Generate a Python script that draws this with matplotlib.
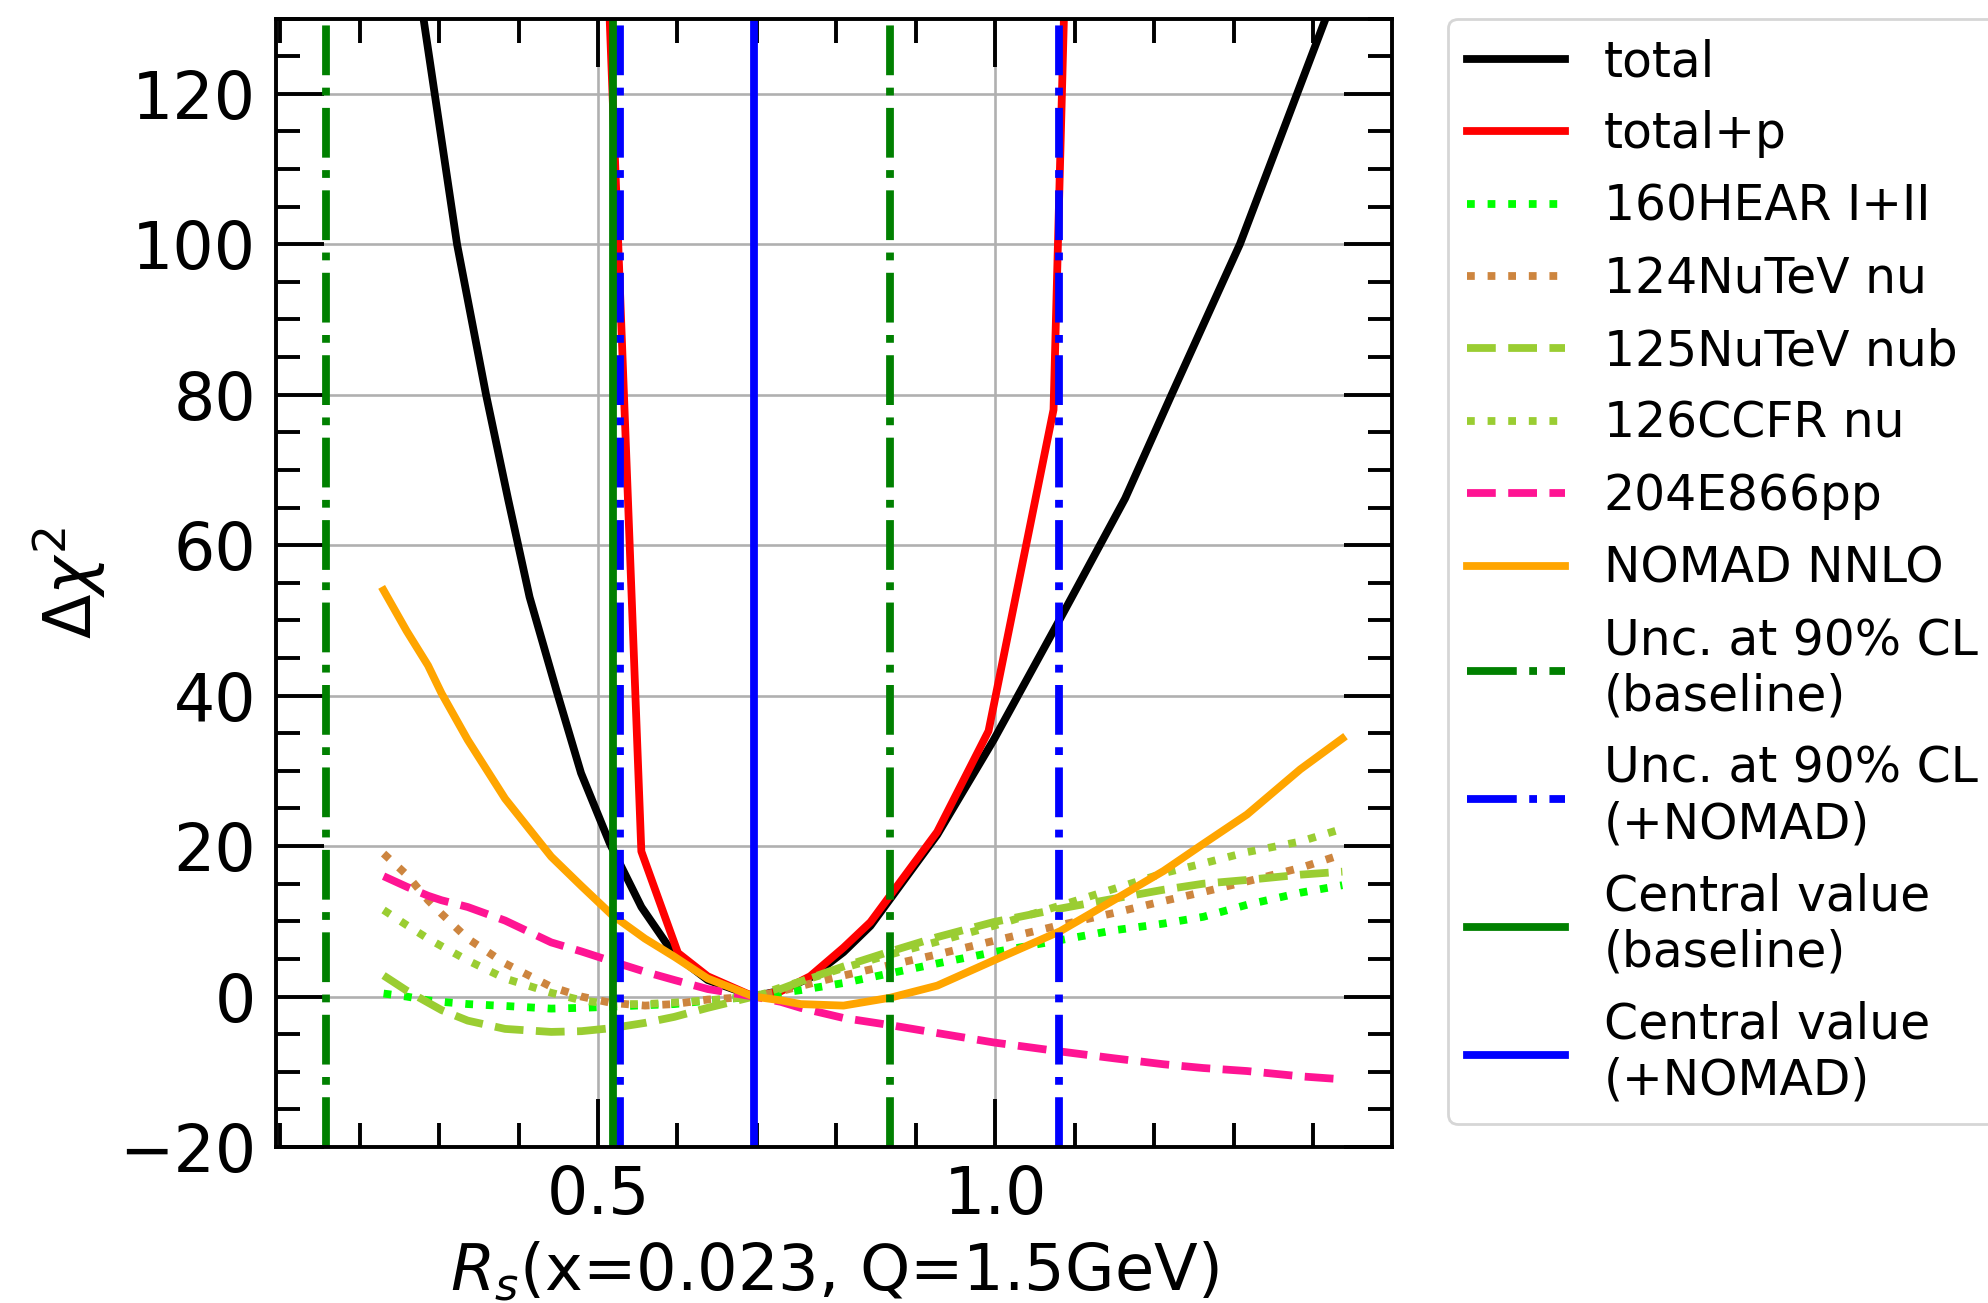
import matplotlib
matplotlib.use("Agg")
import matplotlib.pyplot as plt
from matplotlib.ticker import MultipleLocator

# total and total+p scans
rs_total = [0.276, 0.300, 0.3225, 0.359, 0.387, 0.4138, 0.4476, 0.4786, 0.515, 0.5546,
            0.595, 0.638, 0.696, 0.730, 0.767, 0.809, 0.843, 0.927, 0.998, 1.078,
            1.096, 1.1635, 1.222, 1.308, 1.38, 1.416, 1.43]
chi_total = [133, 116, 100, 80, 66, 53.1, 40.7, 29.7, 20.3, 11.9,
             5.7, 2.2, 0, 0.8, 2.5, 5.9, 9.4, 21.5, 34.1, 49.5,
             53, 66.2, 80, 100, 120, 130, 134]

rs_totalp = [0.511, 0.5545, 0.6006, 0.638, 0.696, 0.730, 0.767, 0.809, 0.843, 0.927,
             0.9916, 1.0734, 1.089]
chi_totalp = [140, 19.3, 5.8, 2.7, 0, 0.7, 2.7, 6.5, 9.9, 21.9,
              35.3, 78, 140]

# per-dataset curves, common Rs grid
rs_grid = [0.230, 0.259, 0.286, 0.303, 0.336, 0.383, 0.441, 0.479, 0.517, 0.559,
           0.596, 0.638, 0.696, 0.730, 0.755, 0.809, 0.868, 0.927, 0.998, 1.082,
           1.149, 1.212, 1.262, 1.317, 1.384, 1.437]
chi_hera = [0.4, 0.0, -0.5, -0.7, -1.0, -1.25, -1.6, -1.5, -1.35, -1.15,
            -1.0, -0.55, 0, 0.5, 0.85, 1.8, 3.1, 4.4, 5.9, 7.5,
            8.8, 9.7, 10.6, 12.2, 13.8, 14.8]
chi_nutev_nu = [19.0, 16.2, 12.8, 11.0, 7.7, 4.4, 1.3, 0, -0.85, -1.2,
                -1.0, -0.4, 0, 0.7, 1.4, 2.8, 4.2, 5.6, 7.4, 9.5,
                11.1, 12.7, 13.9, 15.3, 17.1, 18.9]
chi_nutev_nub = [2.8, 0.8, -0.8, -1.8, -3.2, -4.3, -4.7, -4.6, -4.2, -3.5,
                 -2.7, -1.5, 0, 1.0, 2.0, 4.0, 6.0, 7.9, 9.9, 11.7,
                 13.0, 14.2, 15.0, 15.5, 16.2, 16.6]
chi_ccfr = [11.5, 9.5, 7.7, 6.7, 4.8, 2.4, 0.5, -0.5, -1.0, -1.0,
            -0.8, -0.5, 0, 1.2, 2.0, 3.8, 5.6, 7.3, 9.4, 12.1,
            14.3, 16.4, 17.7, 19.2, 20.6, 22.3]
chi_e866 = [16.0, 14.6, 13.4, 12.8, 11.9, 10.1, 7.2, 6.0, 4.7, 3.3,
            2.2, 1.0, 0, -0.7, -1.5, -2.85, -3.8, -4.85, -6.1, -7.3,
            -8.2, -9.0, -9.5, -9.9, -10.6, -11.0]
chi_nomad = [54.0, 48.6, 44.0, 40.3, 34.1, 26.3, 18.6, 14.7, 10.9, 7.7,
             5.3, 2.4, 0, -0.5, -1.0, -1.2, -0.15, 1.45, 4.8, 8.7,
             12.8, 16.7, 20.3, 24.2, 30.2, 34.3]

unc_base = [0.157, 0.868]
unc_nomad = [0.5273, 1.0797]
cv_base = 0.5189
cv_nomad = 0.6958

lw = 2.8
fig, ax = plt.subplots(figsize=(9.94, 6.515), dpi=200)
fig.subplots_adjust(left=0.1386, right=0.7002, bottom=0.1197, top=0.9858)

ax.plot(rs_total, chi_total, color="black", lw=lw, label="total")
ax.plot(rs_totalp, chi_totalp, color="red", lw=lw, label="total+p")
ax.plot(rs_grid, chi_hera, color="lime", ls=":", lw=lw, label="160HEAR I+II")
ax.plot(rs_grid, chi_nutev_nu, color="peru", ls=":", lw=lw, label="124NuTeV nu")
ax.plot(rs_grid, chi_nutev_nub, color="yellowgreen", ls="--", lw=lw, label="125NuTeV nub")
ax.plot(rs_grid, chi_ccfr, color="yellowgreen", ls=":", lw=lw, label="126CCFR nu")
ax.plot(rs_grid, chi_e866, color="deeppink", ls="--", lw=lw, label="204E866pp")
ax.plot(rs_grid, chi_nomad, color="orange", lw=lw, label="NOMAD NNLO")

for i, xv in enumerate(unc_base):
    ax.axvline(xv, color="green", ls="-.", lw=lw,
               label="Unc. at 90% CL\n(baseline)" if i == 0 else None)
for i, xv in enumerate(unc_nomad):
    ax.axvline(xv, color="blue", ls="-.", lw=lw,
               label="Unc. at 90% CL\n(+NOMAD)" if i == 0 else None)
ax.axvline(cv_base, color="green", lw=lw, label="Central value\n(baseline)")
ax.axvline(cv_nomad, color="blue", lw=lw, label="Central value\n(+NOMAD)")

ax.set_xlim(0.094, 1.4995)
ax.set_ylim(-20, 130)
ax.xaxis.set_major_locator(MultipleLocator(0.5))
ax.xaxis.set_minor_locator(MultipleLocator(0.1))
ax.yaxis.set_major_locator(MultipleLocator(20))
ax.yaxis.set_minor_locator(MultipleLocator(5))
ax.tick_params(which="both", direction="in", top=True, right=True,
               labelsize=23.4, width=1.4)
ax.tick_params(which="major", length=17.3)
ax.tick_params(which="minor", length=8.6)
ax.tick_params(axis="x", pad=6)
ax.tick_params(axis="y", pad=7)
for s in ax.spines.values():
    s.set_linewidth(1.4)
ax.grid(True, which="major", color="#b0b0b0", lw=0.95)

ax.set_xlabel(r"$R_s$(x=0.023, Q=1.5GeV)", fontsize=23)
ax.set_ylabel(r"$\Delta\chi^2$", fontsize=23.4)

ax.legend(loc="upper left", bbox_to_anchor=(1.05, 1.0), borderaxespad=0, fontsize=17.55)

fig.savefig("out.png", dpi=200)
